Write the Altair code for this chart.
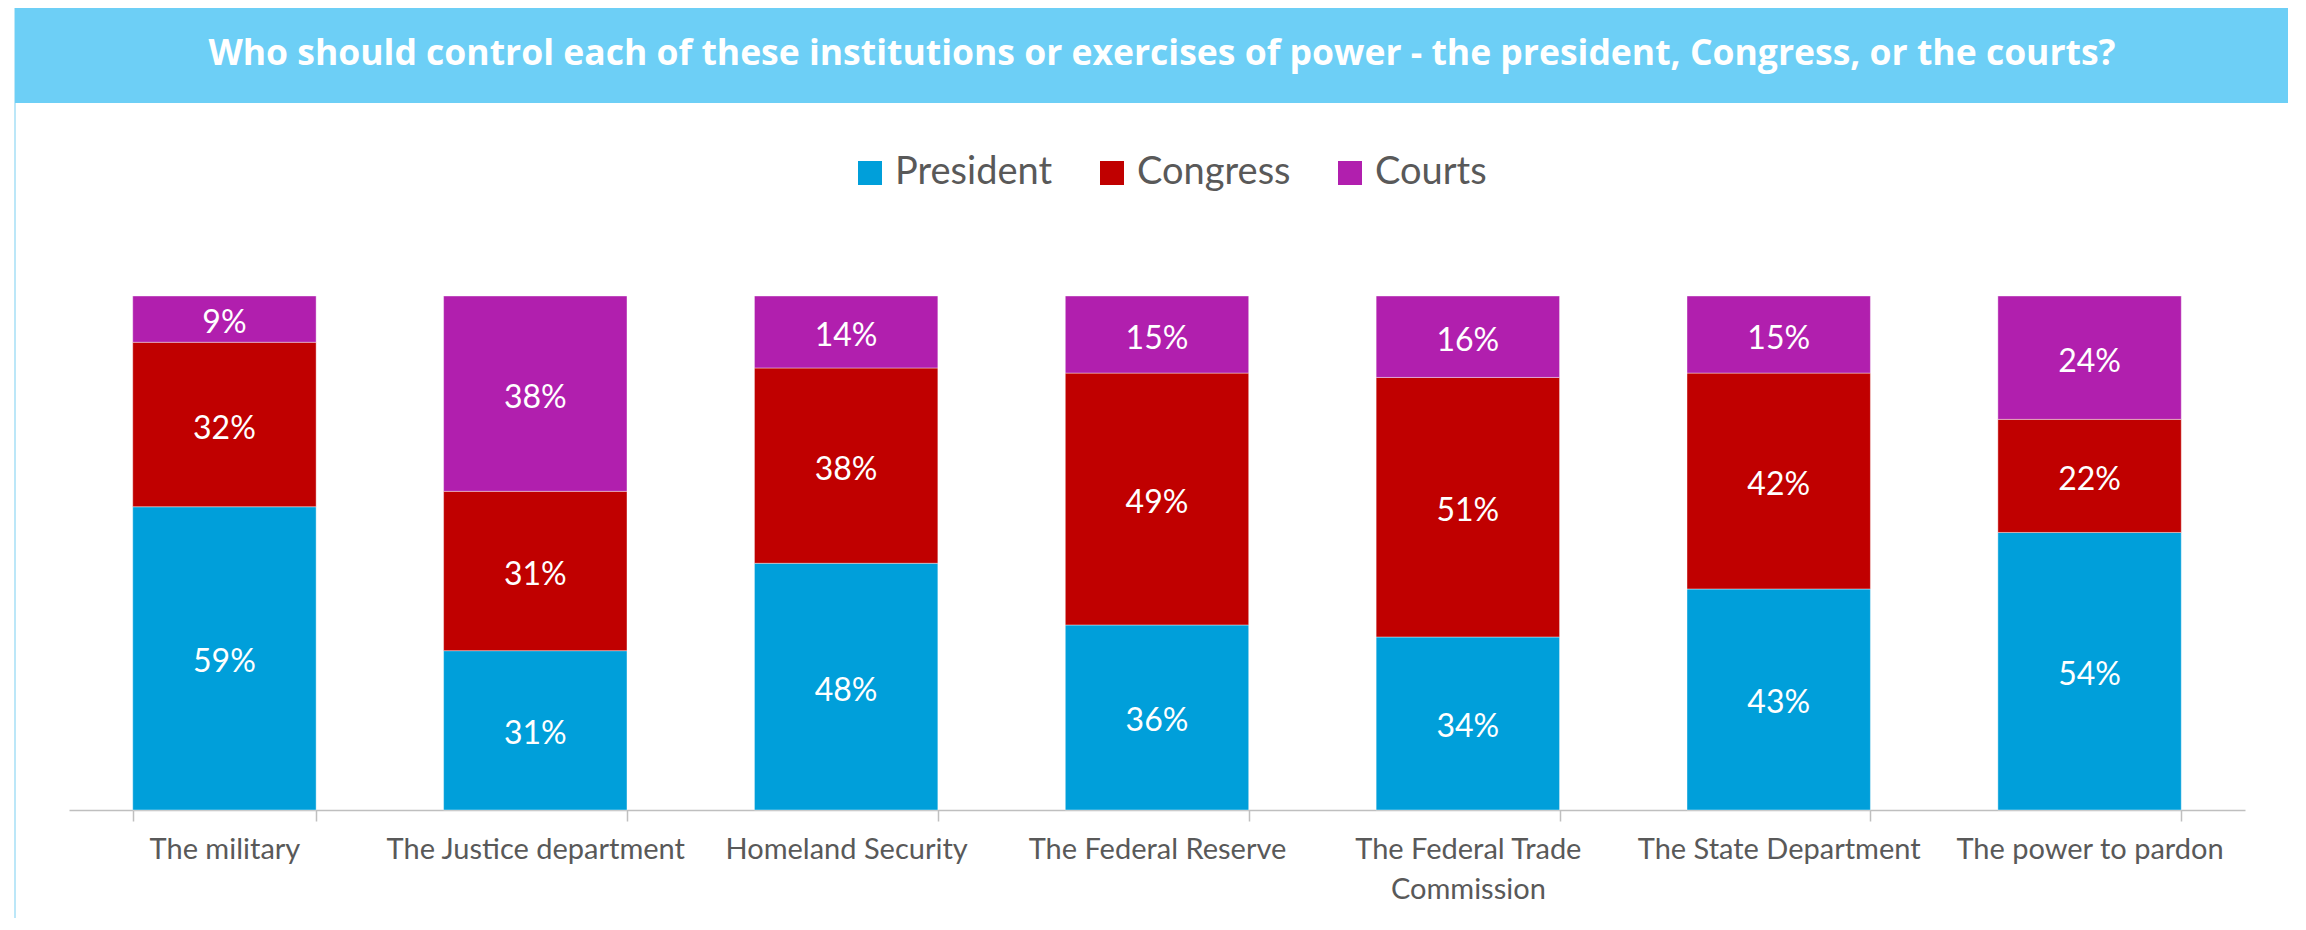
import altair as alt
import pandas as pd

categories = ["The military", "The Justice department", "Homeland Security",
              "The Federal Reserve", "The Federal Trade Commission",
              "The State Department", "The power to pardon"]
president = [59, 31, 48, 36, 34, 43, 54]
congress = [32, 31, 38, 49, 51, 42, 22]
courts = [9, 38, 14, 15, 16, 15, 24]
series = ["President", "Congress", "Courts"]
colors = ["#009FDA", "#C00000", "#B11FAE"]
title_text = ("Who should control each of these institutions or exercises of power"
              " - the president, Congress, or the courts?")

rows = []
for i, c in enumerate(categories):
    for k, (s, vals) in enumerate(zip(series, [president, congress, courts])):
        rows.append({"category": c, "series": s, "order": k, "value": vals[i]})
df = pd.DataFrame(rows)

FONT = "Lato"

base = (
    alt.Chart(df)
    .transform_stack(stack="value", groupby=["category"],
                     sort=[alt.SortField(field="order", order="ascending")],
                     as_=["v0", "v1"])
    .transform_joinaggregate(total="sum(value)", groupby=["category"])
    .transform_calculate(p0="datum.v0 / datum.total",
                         p1="datum.v1 / datum.total",
                         mid="(datum.v0 + datum.v1) / 2 / datum.total",
                         label="datum.value + '%'")
)

x_enc = alt.X(
    "category:N", sort=categories,
    scale=alt.Scale(paddingInner=0.41, paddingOuter=0.205),
    axis=alt.Axis(
        title=None, labelAngle=0, tickBand="extent",
        domainColor="#BFBFBF", domainWidth=1.5,
        tickColor="#BFBFBF", tickWidth=1.5, tickSize=11,
        labelFont=FONT, labelFontSize=29, labelColor="#595959",
        labelPadding=14, labelLineHeight=40, labelLimit=0, labelOverlap=False,
        labelExpr="datum.value == 'The Federal Trade Commission' ? ['The Federal Trade', 'Commission'] : datum.value",
    ),
)
y_scale = alt.Scale(domain=[0, 1], nice=False, zero=True)

bars = base.mark_bar(stroke="white", strokeWidth=1, strokeOpacity=0.4).encode(
    x=x_enc,
    y=alt.Y("p0:Q", scale=y_scale, axis=None),
    y2="p1:Q",
    color=alt.Color(
        "series:N",
        scale=alt.Scale(domain=series, range=colors),
        legend=alt.Legend(
            title=None, orient="none", direction="horizontal",
            legendX=782, legendY=-142,
            symbolType="square", symbolSize=576, symbolStrokeWidth=0,
            labelFont=FONT, labelFontSize=38, labelColor="#595959",
            labelOffset=6, columnPadding=40, padding=0,
        ),
    ),
    order=alt.Order("order:Q"),
)

labels = base.mark_text(color="white", font=FONT, fontSize=32, dy=4).encode(
    x=alt.X("category:N", sort=categories),
    y=alt.Y("mid:Q", scale=y_scale, axis=None),
    text="label:N",
)

tdf = pd.DataFrame({"t": [title_text]})
border = alt.Chart(tdf).mark_rect(filled=False, stroke="#A6DFF6", strokeWidth=1.5).encode(
    x=alt.value(-54), x2=alt.value(2233), y=alt.value(-292), y2=alt.value(640)
)
banner = alt.Chart(tdf).mark_rect(color="#6DCFF6").encode(
    x=alt.value(-54), x2=alt.value(2233), y=alt.value(-292), y2=alt.value(-193)
)
title = alt.Chart(tdf).mark_text(font="Open Sans", fontWeight="bold", fontSize=35.5,
                                 color="white").encode(
    text="t:N", x=alt.value(1093), y=alt.value(-242)
)

chart = (
    alt.layer(border, banner, bars, labels, title)
    .properties(width=2176, height=514, background="white",
                autosize=alt.AutoSizeParams(type="none"),
                padding={"left": 61, "top": 288, "right": 43, "bottom": 108})
    .configure_view(stroke="transparent", strokeWidth=0)
)

chart.save("out.html", embed_options={"renderer": "svg", "actions": False})
